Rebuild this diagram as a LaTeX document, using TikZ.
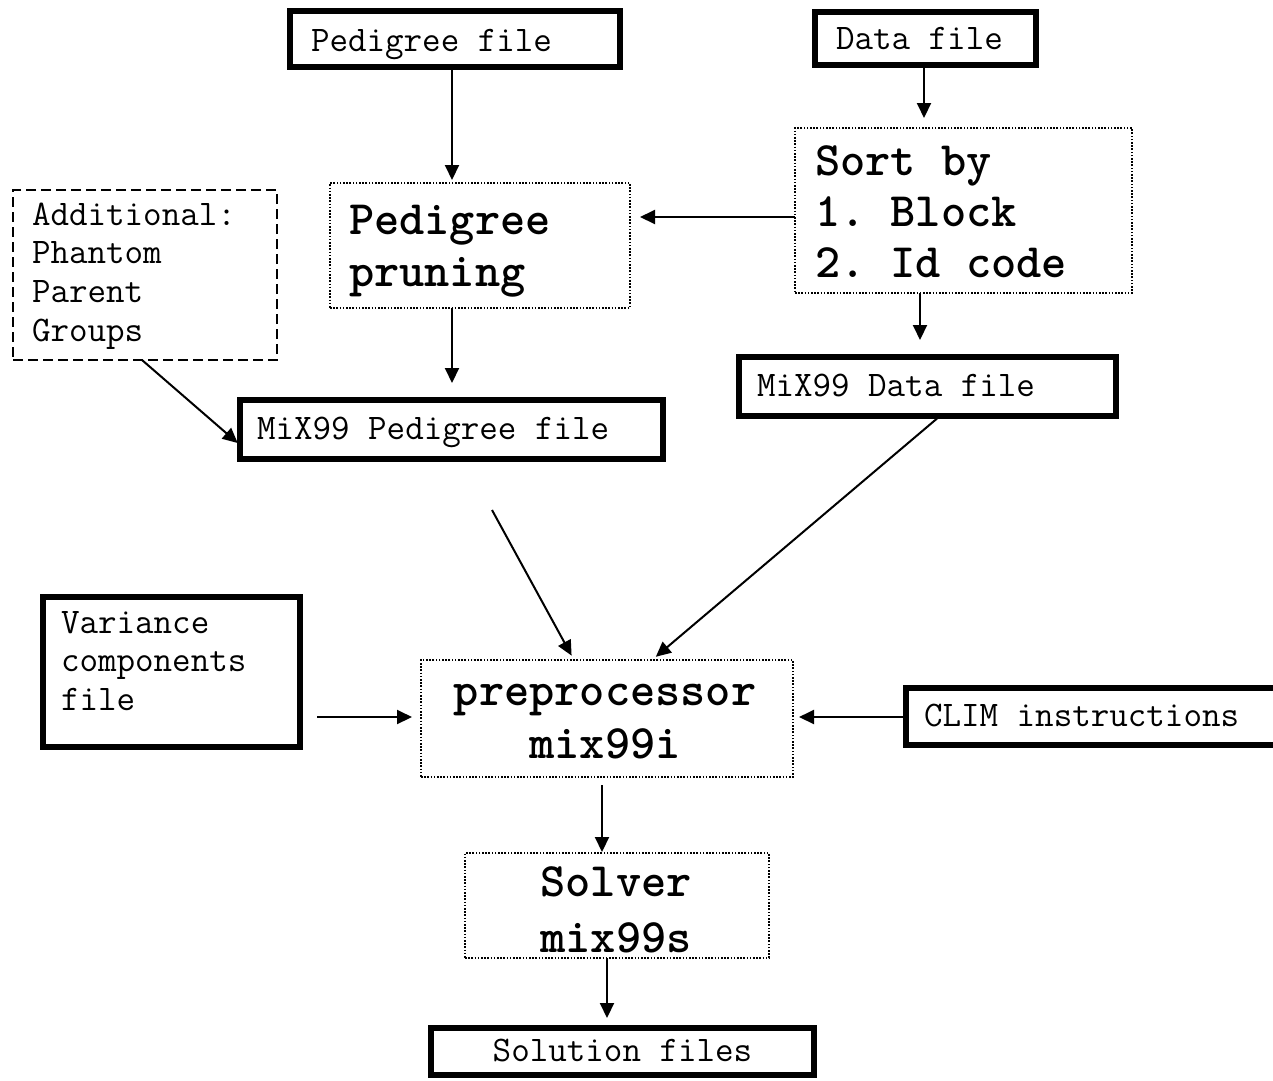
\documentclass[tikz,border=0pt]{standalone}
\usepackage{fontspec}
\usetikzlibrary{arrows.meta}
\newcommand\TBx[4]{\vbox to #2{\hrule height0pt width #1\relax\vskip #3\relax #4\vss}}
\newcommand\LnL[2]{\hbox{\hskip #1\relax\vrule height30pt depth0pt width0pt\relax #2}}
\newcommand\LnC[2]{\hbox to #1{\hss\vrule height30pt depth0pt width0pt\relax #2\hss}}
\frenchspacing
\begin{document}
\begin{tikzpicture}[x=1pt,y=-1pt,
  box/.style={rectangle,inner sep=0pt,outer sep=0pt},
  thickbox/.style={box,draw,line width=5.5pt},
  dotbox/.style={box,draw,line width=1.6pt,dash pattern=on 1.6pt off 1.6pt},
  dashbox/.style={box,draw,line width=1.6pt,dash pattern=on 10pt off 5pt},
  reg/.style={font=\ttfamily\frenchspacing\fontsize{36pt}{38.75pt}\selectfont},
  bld/.style={font=\ttfamily\bfseries\frenchspacing\fontsize{48pt}{#1}\selectfont},
  arr/.style={line width=2pt,-{Triangle[length=15pt,width=14pt]}}]
\useasboundingbox[fill=white] (0,0) rectangle (1273,1080);

% boxes
\node[thickbox,reg] (pedfile) at (455,39)
  {\TBx{330pt}{56pt}{10pt}{\LnL{21pt}{Pedigree file}}};
\node[thickbox,reg] (datafile) at (925.5,38.5)
  {\TBx{221pt}{53pt}{7pt}{\LnL{21pt}{Data file}}};
\node[dotbox,bld=51pt] (sort) at (963.5,210.5)
  {\TBx{337pt}{165pt}{17pt}{\LnL{20pt}{Sort by}\LnL{20pt}{1. Block}\LnL{20pt}{2. Id code}}};
\node[dotbox,bld=52pt] (prune) at (480,245.5)
  {\TBx{300pt}{125pt}{21pt}{\LnL{19pt}{Pedigree}\LnL{19pt}{pruning}}};
\node[dashbox,reg] (add) at (145,275)
  {\TBx{264pt}{170pt}{5pt}{\LnL{19pt}{Additional:}\LnL{19pt}{Phantom}\LnL{19pt}{Parent}\LnL{19pt}{Groups}}};
\node[thickbox,reg] (mixped) at (451.5,429.5)
  {\TBx{423pt}{59pt}{9pt}{\LnL{17pt}{MiX99 Pedigree file}}};
\node[thickbox,reg] (mixdata) at (927.5,386.5)
  {\TBx{377pt}{59pt}{9pt}{\LnL{18pt}{MiX99 Data file}}};
\node[thickbox,reg] (var) at (171.5,672)
  {\TBx{257pt}{150pt}{6pt}{\LnL{18pt}{Variance}\LnL{18pt}{components}\LnL{18pt}{file}}};
\node[dotbox,bld=53pt] (prep) at (607,718.5)
  {\TBx{372pt}{117pt}{15pt}{\LnC{368pt}{preprocessor}\LnC{368pt}{mix99i}}};
\node[thickbox,reg] (clim) at (1098,716.5)
  {\TBx{384pt}{57pt}{8pt}{\LnL{18pt}{CLIM instructions}}};
\node[dotbox,bld=56pt] (solver) at (617,905.5)
  {\TBx{304pt}{105pt}{13pt}{\LnC{302pt}{Solver}\LnC{302pt}{mix99s}}};
\node[thickbox,reg] (sol) at (622.5,1051.5)
  {\TBx{383pt}{47pt}{3pt}{\LnC{383pt}{Solution files}}};

\coordinate (free) at (492,510);

% connectors
\draw[arr,shorten >=3pt] ([xshift=-3pt]pedfile.south) -- ([xshift=-28pt]prune.north);
\draw[arr,shorten >=10pt] ([xshift=-1.5pt]datafile.south) -- ([xshift=-39.5pt]sort.north);
\draw[arr,shorten >=10pt] ([yshift=-6.5pt]sort.west) -- ([yshift=28.5pt]prune.east);
\draw[arr,shorten >=17pt] ([xshift=-28pt]prune.south) -- ([xshift=0.5pt]mixped.north);
\draw[arr,shorten >=17pt] ([xshift=-43.5pt]sort.south) -- ([xshift=-7.5pt]mixdata.north);
\draw[arr,shorten >=3pt] ([xshift=-3pt]add.south) -- ([yshift=-15.5pt]mixped.west);
\draw[arr,shorten >=5pt] (free) -- ([xshift=-33pt]prep.north);
\draw[arr,shorten >=5pt] ([xshift=12.5pt]mixdata.south) -- ([xshift=45pt]prep.north);
\draw[arr,shorten >=9pt] ([xshift=17pt,yshift=-45pt]var.east) -- ([yshift=1.5pt]prep.west);
\draw[arr,shorten >=6pt] ([yshift=-0.5pt]clim.west) -- ([yshift=1.5pt]prep.east);
\draw[arr,shorten <=8pt,shorten >=1pt] ([xshift=-5pt]prep.south) -- ([xshift=-15pt]solver.north);
\draw[arr,shorten >=10pt] ([xshift=-10pt]solver.south) -- ([xshift=-15.5pt]sol.north);
\end{tikzpicture}
\end{document}
